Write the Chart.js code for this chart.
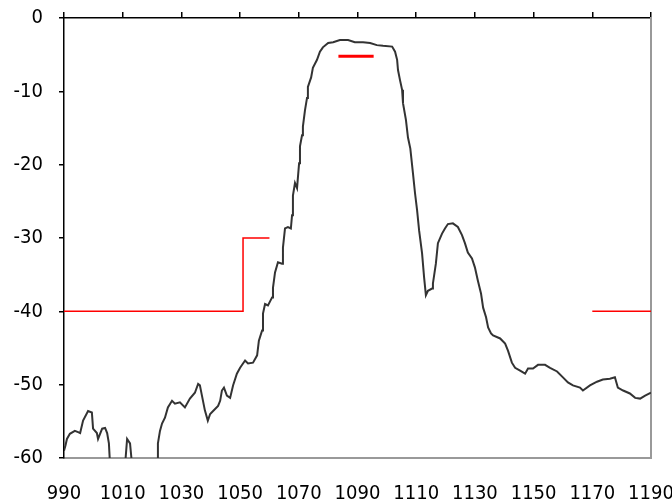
<!DOCTYPE html>
<html>
<head>
<meta charset="utf-8">
<script src="https://cdn.jsdelivr.net/npm/chart.js@4.4.1/dist/chart.umd.min.js"></script>
<style>
  body { margin: 0; background: #fff; }
  #wrap { width: 672px; height: 504px; }
</style>
</head>
<body>
<div id="wrap"><canvas id="chart"></canvas></div>
<script>
// measured trace (MHz, dB)
const traceFreq = [990, 990.5, 991, 992, 993.7, 995, 995.5, 996.5, 998.2, 999.5, 999.9, 1001.2, 1001.6, 1003, 1004, 1004.7, 1005.3, 1005.7,
    1010.8, 1011.5, 1012.5, 1013.2, 1021.7, 1022, 1022.7, 1023.4, 1024.4, 1025.4, 1026.8, 1027.8, 1029.5, 1031.2, 1032.9, 1034.6,
    1035.7, 1036.3, 1037, 1038, 1039, 1039.8, 1040.8, 1042.5, 1043.2, 1043.8, 1044.5, 1045.5, 1046.6, 1047.6, 1048.9, 1050,
    1051.7, 1052.7, 1054.4, 1055.8, 1056.4, 1057.5, 1057.8, 1058.5, 1059.5, 1060.9, 1061.2, 1061.9, 1062.9, 1064.3, 1064.6,
    1065.3, 1066.3, 1067.3, 1067.7, 1068, 1068.7, 1069.4, 1070.1, 1070.4, 1071.1, 1071.4, 1072.1, 1072.8, 1073.1, 1074.2,
    1074.8, 1076.2, 1077.2, 1078.2, 1080, 1081.7, 1084, 1086.8, 1089.1, 1091.9, 1094.3, 1096.6, 1098.7, 1101.8, 1102.8,
    1103.5, 1103.8, 1104.5, 1105.2, 1105.5, 1106.5, 1107.2, 1108, 1108.9, 1109.6, 1110.3, 1111, 1112, 1112.7, 1113.3, 1114,
    1115.4, 1115.7, 1116.7, 1117.4, 1118.8, 1119.8, 1120.8, 1122.5, 1124.2, 1125.6, 1126.6, 1127.6, 1129, 1130, 1131, 1132.1,
    1132.8, 1133.8, 1134.5, 1135.5, 1136.2, 1138.6, 1140.3, 1141.3, 1142.6, 1143.7, 1145.4, 1147.1, 1148.1, 1149.8, 1151.5,
    1153.9, 1155.6, 1158, 1160, 1161.7, 1163.4, 1165.8, 1166.8, 1169.2, 1171.6, 1173.6, 1176, 1177.7, 1178.7, 1180.5, 1182.8,
    1184.6, 1186.3, 1188, 1190];
const traceLevel = [-59, -58.3, -57.4, -56.7, -56.3, -56.5, -56.6, -54.9, -53.6, -53.8, -56, -56.6, -57.4, -56, -55.9, -56.6, -58, -61,
    -61, -57.4, -58, -61, -61, -58, -56.3, -55.3, -54.5, -53.1, -52.2, -52.6, -52.4, -53.1, -51.9, -51.1,
    -49.9, -50.1, -51.5, -53.5, -54.9, -54, -53.6, -52.9, -52.2, -50.8, -50.4, -51.5, -51.8, -50.1, -48.5, -47.7,
    -46.7, -47.1, -47, -46, -44, -42.6, -40.3, -39, -39.2, -38.1, -36.8, -34.7, -33.3, -33.5, -31.3,
    -28.7, -28.5, -28.7, -26.9, -24.2, -22.5, -23.2, -19.8, -17.5, -16, -14.8, -12.6, -10.9, -9.4, -8.1,
    -6.8, -5.7, -4.6, -4, -3.4, -3.3, -3, -3, -3.3, -3.3, -3.4, -3.7, -3.8, -3.9, -4.6,
    -5.7, -7.1, -8.5, -9.8, -11.6, -13.9, -16.3, -17.8, -21.2, -23.9, -26.2, -29, -32.1, -35.4, -37.8, -37.2,
    -36.9, -36.2, -33.5, -30.7, -29.4, -28.7, -28.1, -28, -28.5, -29.6, -30.7, -32, -32.8, -34, -35.8, -37.6,
    -39.5, -40.8, -42.2, -43, -43.3, -43.7, -44.4, -45.4, -47, -47.7, -48.1, -48.5, -47.8, -47.8, -47.3,
    -47.3, -47.7, -48.2, -49, -49.7, -50.1, -50.4, -50.8, -50.1, -49.6, -49.3, -49.2, -49, -50.4, -50.8, -51.2,
    -51.8, -51.9, -51.5, -51.1];

// mask limits
const maskLeftFreq = [990, 1051, 1051, 1060];
const maskLeftLevel = [-40, -40, -30, -30];
const maskRightFreq = [1170, 1190];
const maskRightLevel = [-40, -40];
const passFreq = [1083.5, 1095.5];
const passLevel = [-5.2, -5.2];

const xTicksMin = 990, xTicksMax = 1190, xStep = 20;
const yTicksMin = -60, yTicksMax = 0, yStep = 10;

function pts(xs, ys) {
    return xs.map((x, i) => ({x: x, y: ys[i]}));
}

// condensed look like the original labels
const tickFont = {family: "'DejaVu Sans', sans-serif", size: 20, weight: 'normal condensed'};

const data = {
    datasets: [{
            data: pts(traceFreq, traceLevel),
            borderColor: '#333333',
            borderWidth: 2
        }, {
            data: pts(maskLeftFreq, maskLeftLevel),
            borderColor: '#ff0000',
            borderWidth: 1.5
        }, {
            data: pts(maskRightFreq, maskRightLevel),
            borderColor: '#ff0000',
            borderWidth: 1.5
        }, {
            data: pts(passFreq, passLevel),
            borderColor: '#ff0000',
            borderWidth: 3
        }]
};

const config = {
    type: 'line',
    data: data,
    options: {
        responsive: true,
        maintainAspectRatio: false,
        animation: false,
        layout: {padding: 0},
        elements: {point: {radius: 0}, line: {tension: 0}},
        plugins: {legend: {display: false}, tooltip: {enabled: false}},
        scales: {
            x: {
                type: 'linear', position: 'bottom', min: xTicksMin, max: xTicksMax,
                grid: {display: false, drawTicks: false},
                border: {color: '#999999', width: 2},
                ticks: {stepSize: xStep, autoSkip: false, maxRotation: 0, color: '#000', font: tickFont, padding: 24,
                    callback: v => String(v)},
                afterFit: s => { s.height = 46; s.paddingLeft = 0; s.paddingRight = 0; }
            },
            xTop: {
                type: 'linear', position: 'top', min: xTicksMin, max: xTicksMax,
                grid: {drawOnChartArea: false, tickLength: 6, color: '#000', lineWidth: 1.5},
                border: {color: '#000', width: 1.5},
                ticks: {stepSize: xStep, autoSkip: false, callback: () => ''},
                afterFit: s => { s.height = 18; s.paddingLeft = 0; s.paddingRight = 0; }
            },
            y: {
                min: yTicksMin, max: yTicksMax,
                grid: {drawOnChartArea: false, tickLength: 5, color: '#000', lineWidth: 1.5},
                border: {color: '#000', width: 1.5},
                ticks: {stepSize: yStep, color: '#000', font: tickFont, padding: 16},
                afterFit: s => { s.width = 64; s.paddingTop = 0; s.paddingBottom = 0; }
            },
            y2: {
                position: 'right', min: yTicksMin, max: yTicksMax,
                grid: {display: false, drawTicks: false},
                border: {color: '#999999', width: 2},
                ticks: {display: false},
                afterFit: s => { s.width = 21; s.paddingTop = 0; s.paddingBottom = 0; }
            }
        }
    }
};

let ctx = document.getElementById('chart').getContext('2d');
new Chart(ctx, config);
</script>
</body>
</html>
